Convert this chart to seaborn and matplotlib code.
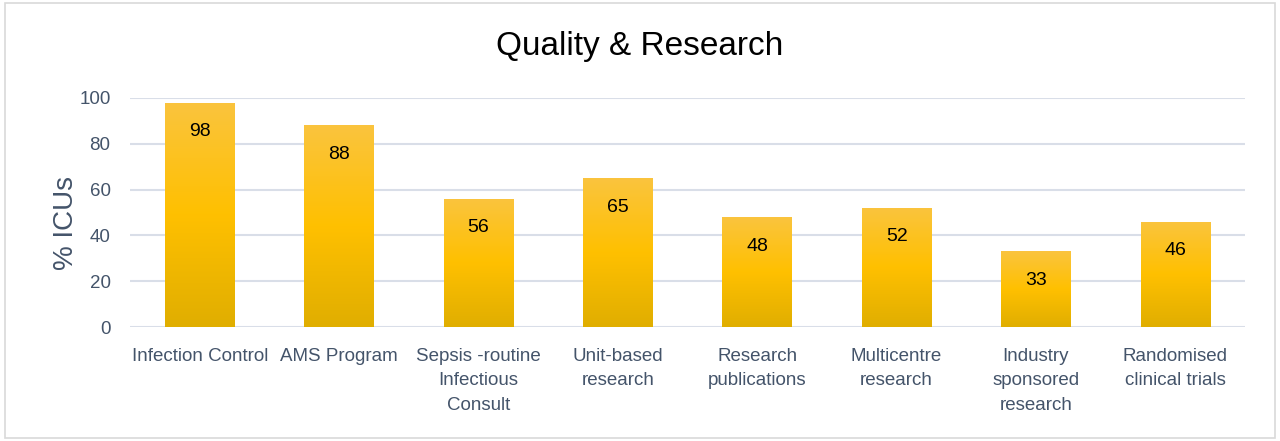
import matplotlib
matplotlib.use("Agg")
import matplotlib.pyplot as plt
import matplotlib.patches as mpatches
from matplotlib.colors import LinearSegmentedColormap
import numpy as np
import pandas as pd
import seaborn as sns

categories = ["Infection Control", "AMS Program", "Sepsis -routine\nInfectious\nConsult",
              "Unit-based\nresearch", "Research\npublications", "Multicentre\nresearch",
              "Industry\nsponsored\nresearch", "Randomised\nclinical trials"]
values = [98, 88, 56, 65, 48, 52, 33, 46]

df = pd.DataFrame({"category": categories, "pct": values})

sns.set_theme(style="white")
plt.rcParams["font.family"] = ["Liberation Sans", "DejaVu Sans"]

txt = "#44546A"
fig = plt.figure(figsize=(12.8, 4.41), dpi=100)
ax = fig.add_axes([0.1016, 0.2585, 0.8711, 0.5193])

sns.barplot(data=df, x="category", y="pct", color="#FFC000", width=0.5, ax=ax, zorder=2)

# vertical gold gradient on each bar
grad = LinearSegmentedColormap.from_list("gold", ["#E0AE00", "#FFC000", "#FAC43E"])
g = np.linspace(0, 1, 256).reshape(-1, 1)
for p in ax.patches:
    x0, y0 = p.get_x(), p.get_y()
    w, h = p.get_width(), p.get_height()
    im = ax.imshow(g, cmap=grad, origin="lower", aspect="auto",
                   extent=[x0, x0 + w, y0, y0 + h], zorder=3)
    im.set_clip_path(p)
    p.set_edgecolor("none")

ax.bar_label(ax.containers[0], labels=[str(v) for v in values], padding=-27,
             fontsize=14, color="black", zorder=4)

ax.set_xlim(-0.5, len(categories) - 0.5)
ax.set_ylim(0, 100)
ax.set_yticks(range(0, 101, 20))
ax.yaxis.grid(True, color="#D9DEE8", linewidth=1.5, zorder=0)
ax.set_axisbelow(True)
for s in ax.spines.values():
    s.set_visible(False)
ax.tick_params(axis="both", length=0, labelsize=13.5, labelcolor=txt)
ax.tick_params(axis="x", pad=15)
ax.tick_params(axis="y", pad=14)
for t in ax.get_xticklabels():
    t.set_linespacing(1.57)
ax.set_xlabel("")
ax.set_ylabel("% ICUs", fontsize=20, color=txt)
ax.yaxis.set_label_coords(-0.046, 0.455)

fig.suptitle("Quality & Research", y=0.895, va="center", fontsize=24, color="black")

fig.patches.append(mpatches.Rectangle((0.004, 0.006), 0.992, 0.988, transform=fig.transFigure,
                                      fill=False, edgecolor="#D9D9D9", linewidth=1.2))

fig.savefig("out.png", dpi=100)
